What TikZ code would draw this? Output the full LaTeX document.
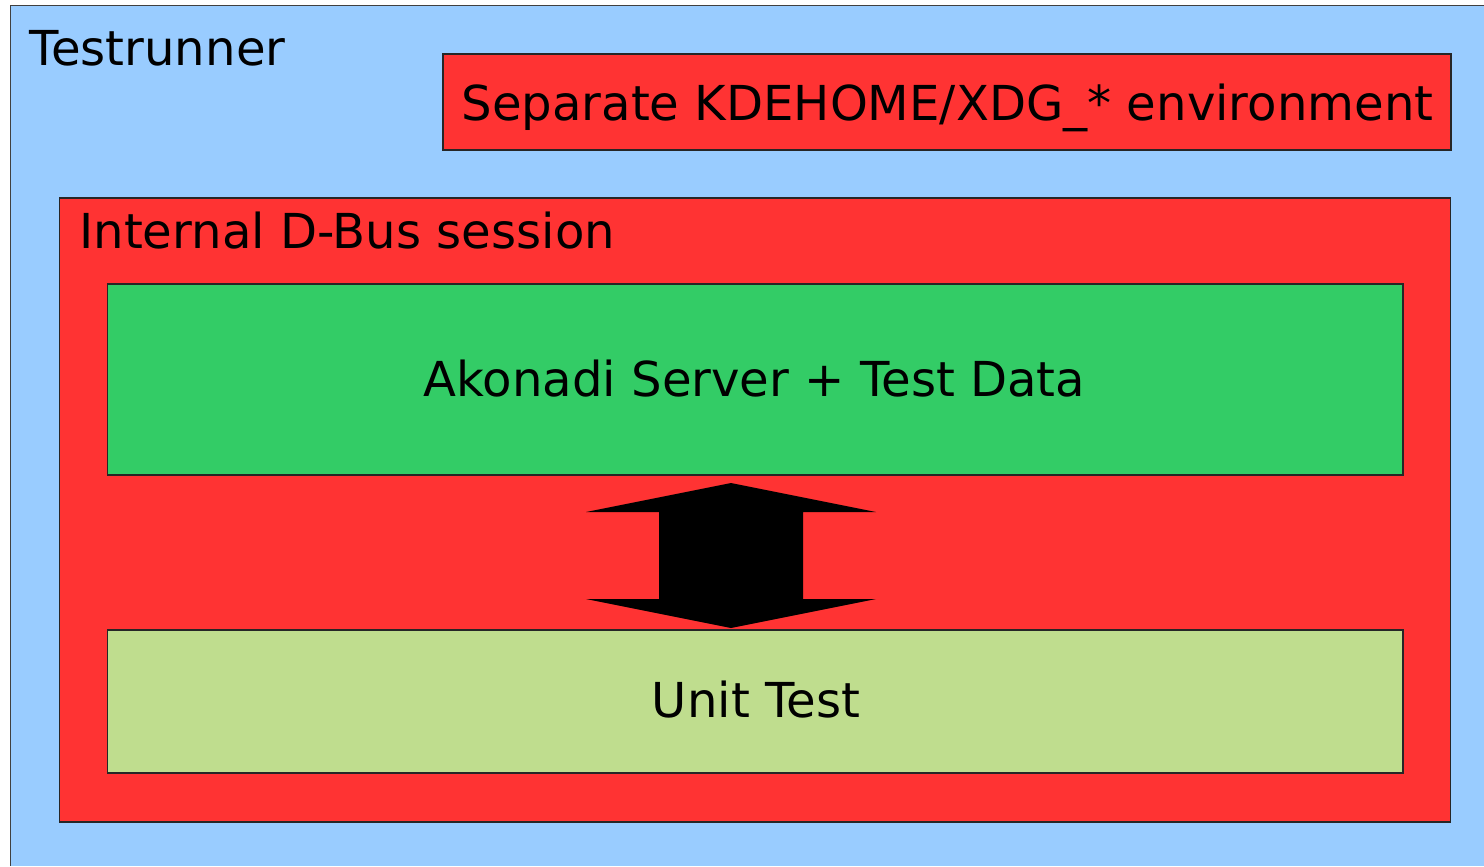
\documentclass[tikz,border=0pt]{standalone}
\usepackage{fontspec}
\setmainfont{DejaVu Sans}
\definecolor{skyblue}{HTML}{99CCFF}
\definecolor{boxred}{HTML}{FF3333}
\definecolor{servergreen}{HTML}{33CC66}
\definecolor{testgreen}{HTML}{BFDD8E}

\begin{document}
\begin{tikzpicture}[x=0.02cm, y=-0.02cm,
  box/.style={draw=black!85, line width=0.7pt, inner sep=0pt, outer sep=0pt},
  caption/.style={font=\fontsize{27.4}{32}\selectfont, inner sep=0pt}]
  \useasboundingbox (0,0) rectangle (1484,866);
  % Outer frame, cut by the page on the right and at the bottom
  \node[fill=skyblue, inner sep=0pt, minimum width=29.47cm, minimum height=17.21cm] (testrunner) at (747.25,435.75) {};
  \draw[black!75, line width=0.7pt] (testrunner.north east) -- (testrunner.north west) -- (testrunner.south west);
  \node[caption, anchor=base west] (trtitle) at (29.5,65) {Testrunner};

  % Boxes
  \node[box, fill=boxred, minimum width=20.16cm, minimum height=1.92cm] (env) at (947,102) {};
  \node[box, fill=boxred, minimum width=27.84cm, minimum height=12.48cm] (dbus) at (755,510) {};
  \node[box, fill=servergreen, minimum width=25.92cm, minimum height=3.82cm] (akonadi) at (755,379.5) {};
  \node[box, fill=testgreen, minimum width=25.92cm, minimum height=2.86cm] (unittest) at (755,701.5) {};

  % Texts
  \node[caption, anchor=base] (envtext) at (947.5,120) {Separate KDEHOME/XDG\_* environment};
  \node[caption, anchor=base west] (dbustext) at (79,248) {Internal D-Bus session};
  \node[caption, anchor=base] (akonaditext) at (754.5,396) {Akonadi Server + Test Data};
  \node[caption, anchor=base] (unittext) at (756,717) {Unit Test};

  % Block arrow between server and test
  \coordinate (tiptop) at (731,483);
  \coordinate (tipbot) at (731,628);
  \fill[black] (tiptop) -- ++(145,29) -- ++(-73,0) -- ++(0,87) -- ++(73,0) -- (tipbot)
    -- ++(-145,-29) -- ++(73,0) -- ++(0,-87) -- ++(-73,0) -- cycle;
\end{tikzpicture}
\end{document}
